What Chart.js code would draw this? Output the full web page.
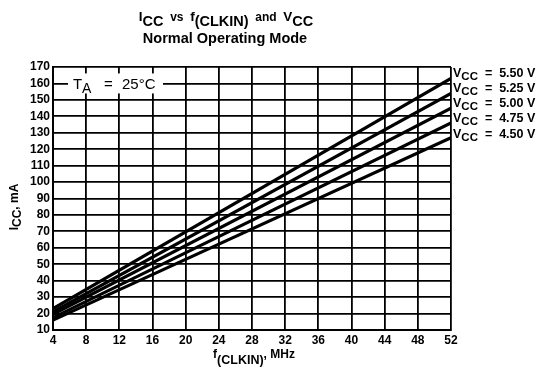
<!DOCTYPE html>
<html><head><meta charset="utf-8">
<script src="https://cdn.jsdelivr.net/npm/chart.js@4"></script>
<style>html,body{margin:0;padding:0;background:#fff;}#wrap{width:542px;height:367px;position:relative}</style>
</head><body><div id="wrap"><canvas id="c" width="542" height="367"></canvas></div>
<script>
// ---- data ----
const freqMHz = [4, 52];
const vccLabels = ['5.50', '5.25', '5.00', '4.75', '4.50'];
const icc550 = [23, 163];
const icc525 = [21, 154];
const icc500 = [19.5, 145];
const icc475 = [17.5, 136];
const icc450 = [16, 127];
const xTickValues = [4, 8, 12, 16, 20, 24, 28, 32, 36, 40, 44, 48, 52];
const yTickValues = [10, 20, 30, 40, 50, 60, 70, 80, 90, 100, 110, 120, 130, 140, 150, 160, 170];

const seriesValues = [icc550, icc525, icc500, icc475, icc450];
const FONT = '"Liberation Sans", Arial, Helvetica, sans-serif';

function richWidth(ctx, parts) {
  let w = 0;
  for (const p of parts) { ctx.font = p.font; w += ctx.measureText(p.t).width; }
  return w;
}
function drawRich(ctx, parts, x, y, align) {
  const w = richWidth(ctx, parts);
  let cx = align === 'center' ? x - w / 2 : x;
  ctx.textBaseline = 'alphabetic';
  ctx.textAlign = 'left';
  for (const p of parts) {
    ctx.font = p.font;
    ctx.fillText(p.t, cx, y + (p.dy || 0));
    cx += ctx.measureText(p.t).width;
  }
}

const textPlugin = {
  id: 'texts',
  afterDraw(chart) {
    const ctx = chart.ctx;
    const a = chart.chartArea;
    const ys = chart.scales.y;
    ctx.save();
    ctx.fillStyle = '#000';
    const M = 'bold 13.5px ' + FONT, S = 'bold 14.5px ' + FONT, small = 'bold 12px ' + FONT;
    // Title
    drawRich(ctx, [
      {t: 'I', font: M, dy: -3}, {t: 'CC', font: S, dy: 2},
      {t: '  vs  ', font: small, dy: -3},
      {t: 'f', font: M, dy: -3}, {t: '(CLKIN)', font: S, dy: 2},
      {t: '  and  ', font: small, dy: -3},
      {t: 'V', font: M, dy: -3}, {t: 'CC', font: S, dy: 2}
    ], 226, 24, 'center');
    drawRich(ctx, [{t: 'Normal Operating Mode', font: 'bold 14.5px ' + FONT}], 225, 43, 'center');

    // X axis title
    drawRich(ctx, [
      {t: 'f', font: 'bold 12px ' + FONT, dy: 0}, {t: '(CLKIN)', font: 'bold 12.5px ' + FONT, dy: 6},
      {t: ', MHz', font: 'bold 12px ' + FONT, dy: 0}
    ], (a.left + a.right) / 2 + 2, 358, 'center');

    // Y axis title (rotated)
    ctx.save();
    ctx.translate(18, 207);
    ctx.rotate(-Math.PI / 2);
    drawRich(ctx, [
      {t: 'I', font: 'bold 12px ' + FONT, dy: 0}, {t: 'CC', font: 'bold 12px ' + FONT, dy: 3},
      {t: ', mA', font: 'bold 12px ' + FONT, dy: 0}
    ], 0, 0, 'center');
    ctx.restore();

    // Right-side series labels
    seriesValues.forEach((vals, i) => {
      const yEnd = ys.getPixelForValue(vals[vals.length - 1]);
      const y = yEnd - 1 + (i - 2) * 0.5;
      drawRich(ctx, [
        {t: 'V', font: 'bold 12.5px ' + FONT, dy: 0},
        {t: 'CC', font: 'bold 11.5px ' + FONT, dy: 3},
        {t: '  =  ' + vccLabels[i] + ' V', font: 'bold 12.5px ' + FONT, dy: 0}
      ], a.right + 2, y, 'left');
    });

    // T_A annotation
    const bx = a.left + 15, by = ys.getPixelForValue(160) - 10;
    ctx.fillStyle = '#fff';
    ctx.fillRect(bx, by, 95, 20);
    ctx.fillStyle = '#000';
    ctx.textBaseline = 'alphabetic';
    ctx.textAlign = 'left';
    const base = by + 16;
    ctx.font = '15px ' + FONT;
    ctx.fillText('T', bx + 5, base);
    ctx.font = '14px ' + FONT;
    ctx.fillText('A', bx + 14, base + 4);
    ctx.font = '15px ' + FONT;
    ctx.fillText('=', bx + 36, base);
    ctx.fillText('25\u00B0C', bx + 54, base);
    ctx.restore();
  }
};

new Chart(document.getElementById('c'), {
  type: 'line',
  data: {
    datasets: seriesValues.map((vals, i) => ({
      label: 'VCC = ' + vccLabels[i] + ' V',
      data: freqMHz.map((f, k) => ({x: f, y: vals[k]})),
      borderColor: '#000',
      borderWidth: 3.2,
      pointRadius: 0,
      fill: false,
      tension: 0
    }))
  },
  options: {
    responsive: false,
    animation: false,
    devicePixelRatio: 1,
    layout: {padding: {top: 67, right: 91, left: 0, bottom: 0}},
    plugins: {legend: {display: false}, tooltip: {enabled: false}, title: {display: false}},
    scales: {
      x: {
        type: 'linear', min: 4, max: 52,
        afterBuildTicks: s => { s.ticks = xTickValues.map(v => ({value: v})); },
        afterFit: s => { s.height = 37; },
        ticks: {color: '#000', font: {family: FONT, size: 12, weight: 'bold'}, padding: 3, maxRotation: 0, autoSkip: false},
        grid: {color: '#000', lineWidth: 1.8, drawTicks: false},
        border: {color: '#000', width: 2}
      },
      y: {
        type: 'linear', min: 10, max: 170,
        afterBuildTicks: s => { s.ticks = yTickValues.map(v => ({value: v})); },
        afterFit: s => { s.width = 53; },
        ticks: {color: '#000', font: {family: FONT, size: 12, weight: 'bold'}, padding: 3, autoSkip: false},
        grid: {color: '#000', lineWidth: 1.8, drawTicks: false},
        border: {color: '#000', width: 2}
      }
    }
  },
  plugins: [textPlugin]
});
</script>
</body></html>
